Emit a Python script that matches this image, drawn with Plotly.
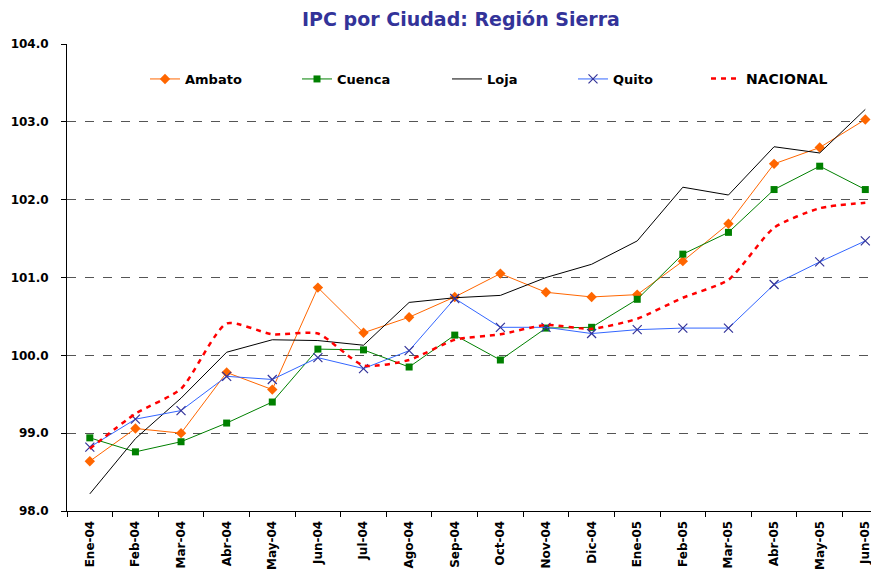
import plotly.graph_objects as go

months = ["Ene-04", "Feb-04", "Mar-04", "Abr-04", "May-04", "Jun-04", "Jul-04", "Ago-04", "Sep-04",
          "Oct-04", "Nov-04", "Dic-04", "Ene-05", "Feb-05", "Mar-05", "Abr-05", "May-05", "Jun-05"]

ambato = [98.64, 99.06, 99.00, 99.78, 99.56, 100.87, 100.29, 100.49, 100.75,
          101.05, 100.81, 100.75, 100.78, 101.21, 101.69, 102.46, 102.67, 103.03]
cuenca = [98.94, 98.76, 98.89, 99.13, 99.40, 100.08, 100.07, 99.85, 100.26,
          99.94, 100.35, 100.36, 100.72, 101.30, 101.58, 102.13, 102.43, 102.13]
loja = [98.22, 98.93, 99.45, 100.04, 100.20, 100.19, 100.13, 100.68, 100.74,
        100.77, 101.00, 101.17, 101.47, 102.16, 102.06, 102.68, 102.60, 103.16]
quito = [98.82, 99.18, 99.29, 99.73, 99.69, 99.97, 99.83, 100.06, 100.73,
         100.36, 100.36, 100.28, 100.33, 100.35, 100.35, 100.91, 101.20, 101.47]
nacional = [98.80, 99.25, 99.57, 100.41, 100.27, 100.28, 99.87, 99.94, 100.20,
            100.27, 100.39, 100.34, 100.47, 100.74, 100.97, 101.64, 101.89, 101.96]

title_text = "IPC por Ciudad: Región Sierra"
y_ticks = [98, 99, 100, 101, 102, 103, 104]

FONT = "DejaVu Sans"
OFF = 8  # page body margin
W, H = 879 - OFF, 571 - OFF
L, T, B = 67 - OFF, 44 - OFF, 571 - 511

fig = go.Figure()
fig.add_trace(go.Scatter(x=months, y=ambato, name="Ambato", mode="lines+markers",
                         line=dict(color="#FF6600", width=1),
                         marker=dict(symbol="diamond", size=8, color="#FF6600"),
                         legend="legend"))
fig.add_trace(go.Scatter(x=months, y=cuenca, name="Cuenca", mode="lines+markers",
                         line=dict(color="#008000", width=1),
                         marker=dict(symbol="square", size=7, color="#008000"),
                         legend="legend2"))
fig.add_trace(go.Scatter(x=months, y=loja, name="Loja", mode="lines",
                         line=dict(color="#000000", width=1),
                         legend="legend3"))
fig.add_trace(go.Scatter(x=months, y=quito, name="Quito", mode="lines+markers",
                         line=dict(color="#3366FF", width=1),
                         marker=dict(symbol="x-thin", size=9, color="#333399",
                                     line=dict(color="#333399", width=1.2)),
                         legend="legend4"))
fig.add_trace(go.Scatter(x=months, y=nacional, name="NACIONAL", mode="lines",
                         line=dict(color="#FF0000", width=2.5, dash="5px,5px",
                                   shape="spline", smoothing=0.6),
                         legend="legend5"))

def leg(xpx, size=13):
    return dict(x=(xpx - 67) / 812, y=1 - (79 - 44) / 467, xanchor="left", yanchor="middle",
                orientation="h", bgcolor="rgba(0,0,0,0)",
                font=dict(family=FONT, size=size, color="black", weight="bold"))

fig.update_layout(
    width=W, height=H,
    paper_bgcolor="white", plot_bgcolor="white",
    margin=dict(l=L, r=0, t=T, b=B),
    font=dict(family=FONT, size=12, color="black", weight="bold"),
    title=dict(text=title_text, x=(461 - OFF) / W, xanchor="center", y=1 - (19 - OFF) / H,
               yanchor="middle",
               font=dict(family=FONT, size=19, color="#333399", weight="bold")),
    showlegend=True,
    legend=leg(145), legend2=leg(297), legend3=leg(447), legend4=leg(573), legend5=leg(706, 14),
    xaxis=dict(type="category", range=[-0.5, 17.3], tickangle=-90, ticks="outside",
               tickson="boundaries", ticklen=5, tickcolor="black", showline=True,
               linecolor="black", linewidth=1, showgrid=False, automargin=False,
               ticklabelstandoff=4,
               tickfont=dict(family=FONT, size=12, color="black", weight="bold")),
    yaxis=dict(range=[98, 104], tickvals=y_ticks, tickformat=".1f", ticks="outside",
               ticklen=5, tickcolor="black", showline=True, linecolor="black", linewidth=1,
               showgrid=True, gridcolor="#555555", gridwidth=1, griddash="dash",
               zeroline=False, automargin=False, ticklabelstandoff=10,
               tickfont=dict(family=FONT, size=12, color="black", weight="bold")),
)

fig.write_html("out.html")
